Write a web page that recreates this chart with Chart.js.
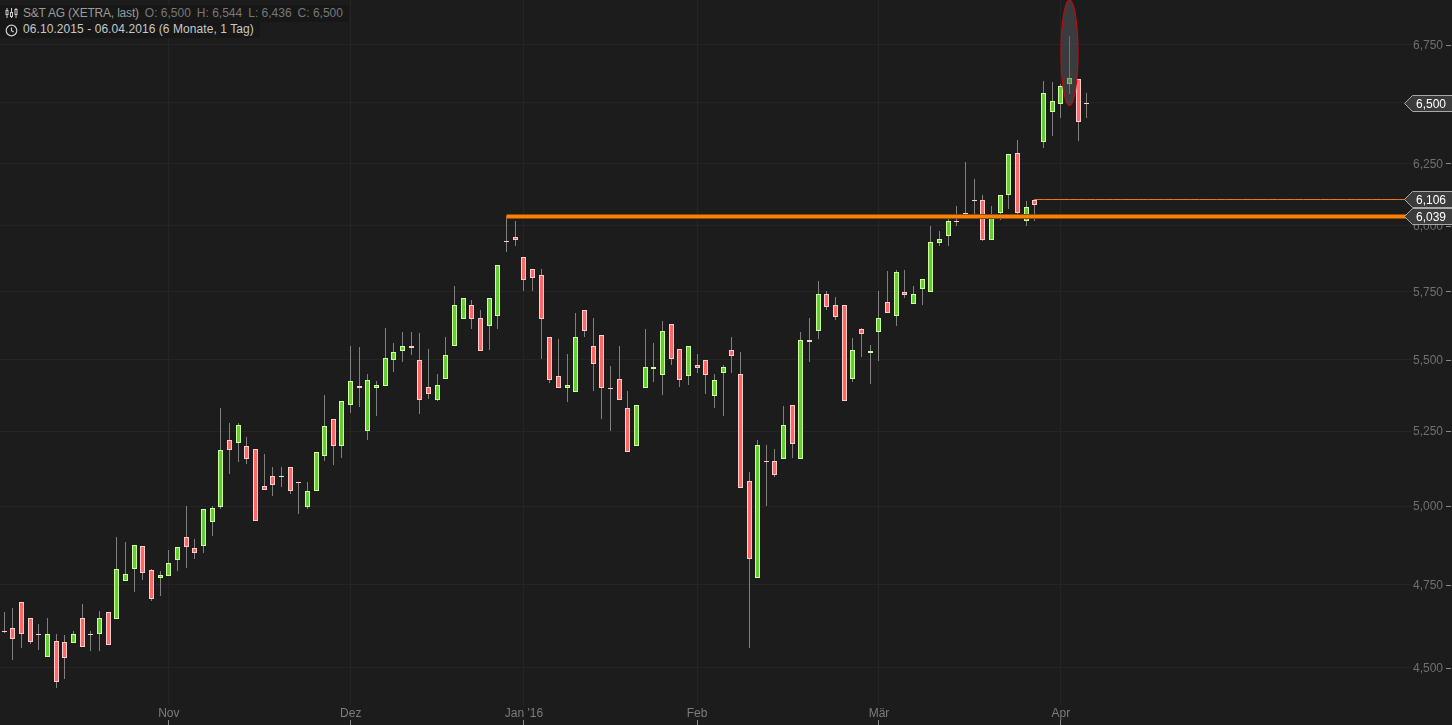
<!DOCTYPE html>
<html>
<head>
<meta charset="utf-8">
<title>S&amp;T AG</title>
<style>
  html, body { margin: 0; padding: 0; background: #1c1c1c; overflow: hidden; }
  #wrap { position: relative; width: 1452px; height: 725px; }
  #chart { display: block; }
  .head { position: absolute; left: 0; height: 16px; line-height: 16px; background: #171717; font: 12px "Liberation Sans", Arial, sans-serif; white-space: pre; padding-left: 23px; padding-right: 6px; }
  .head svg { position: absolute; left: 5px; top: 2px; }
  #row1 { top: 5px; color: #9a9a9a; padding-top: 1px; }
  #row1 b { font-weight: normal; letter-spacing: -0.2px; }
  #row1 span { color: #777; margin-left: 6px; }
  #row2 { top: 22px; color: #c8c8c8; letter-spacing: 0.07px; }
</style>
</head>
<body>
<div id="wrap">
  <canvas id="chart" width="1452" height="725"></canvas>
  <div class="head" id="row1"><svg width="13" height="12" viewBox="0 0 13 12" fill="none" stroke="#ccc"><path d="M2 1v10M6.500 1v10M11 1v10"/><rect x="1" y="3.500" width="2" height="4" fill="#1c1c1c"/><rect x="5.500" y="5.500" width="2" height="4" fill="#1c1c1c"/><rect x="10" y="2.500" width="2" height="5" fill="#1c1c1c"/></svg><b>S&amp;T AG (XETRA, last)</b><span>O: 6,500</span><span>H: 6,544</span><span>L: 6,436</span><span>C: 6,500</span></div>
  <div class="head" id="row2"><svg width="13" height="13" viewBox="0 0 13 13" fill="none" stroke="#ccc" stroke-width="1.200"><circle cx="6.500" cy="6.500" r="5.300"/><path d="M6.500 3.500v3.200l2.200 1.300"/></svg>06.10.2015 - 06.04.2016 (6 Monate, 1 Tag)</div>
</div>
<script src="https://cdn.jsdelivr.net/npm/chart.js@4"></script>
<script>
const tradingDays = [
  '06.10','07.10','08.10','09.10','12.10','13.10','14.10','15.10','16.10','19.10','20.10','21.10','22.10','23.10','26.10','27.10','28.10','29.10','30.10',
  '02.11','03.11','04.11','05.11','06.11','09.11','10.11','11.11','12.11','13.11','16.11','17.11','18.11','19.11','20.11','23.11','24.11','25.11','26.11','27.11','30.11',
  '01.12','02.12','03.12','04.12','07.12','08.12','09.12','10.12','11.12','14.12','15.12','16.12','17.12','18.12','21.12','22.12','23.12','28.12','29.12','30.12',
  '04.01','05.01','06.01','07.01','08.01','11.01','12.01','13.01','14.01','15.01','18.01','19.01','20.01','21.01','22.01','25.01','26.01','27.01','28.01','29.01',
  '01.02','02.02','03.02','04.02','05.02','08.02','09.02','10.02','11.02','12.02','15.02','16.02','17.02','18.02','19.02','22.02','23.02','24.02','25.02','26.02','29.02',
  '01.03','02.03','03.03','04.03','07.03','08.03','09.03','10.03','11.03','14.03','15.03','16.03','17.03','18.03','21.03','22.03','23.03','24.03','29.03','30.03','31.03',
  '01.04','04.04','05.04','06.04'
];

const open = [
  4.610,4.618,4.697,4.649,4.601,4.533,4.579,4.576,4.575,4.649,4.601,4.599,4.667,4.647,4.761,4.798,4.871,4.796,4.770,4.779,
  4.826,4.901,4.865,4.873,4.947,4.998,5.219,5.208,5.199,5.188,5.066,5.099,5.096,5.129,5.080,4.998,5.048,5.167,5.291,5.198,
  5.341,5.406,5.249,5.398,5.408,5.497,5.532,5.548,5.498,5.403,5.359,5.430,5.550,5.649,5.698,5.651,5.620,5.660,5.942,5.957,
  5.879,5.834,5.811,5.581,5.442,5.398,5.387,5.680,5.548,5.589,5.400,5.431,5.329,5.198,5.398,5.468,5.447,5.629,5.537,5.440,
  5.481,5.498,5.373,5.454,5.534,5.449,5.082,4.770,5.150,5.149,5.157,5.339,5.157,5.570,5.602,5.739,5.698,5.698,5.430,5.611,
  5.523,5.598,5.709,5.660,5.747,5.701,5.757,5.749,5.935,5.959,6.020,6.052,6.102,6.101,5.947,6.049,6.122,6.291,6.018,6.101,
  6.339,6.464,6.497,6.579,6.602,6.500
];
const high = [
  4.668,4.680,4.697,4.649,4.631,4.649,4.601,4.598,4.610,4.692,4.610,4.671,4.667,4.901,4.885,4.874,4.871,4.800,4.794,4.859,
  4.868,5.001,4.895,4.990,5.001,5.330,5.279,5.279,5.231,5.188,5.173,5.130,5.130,5.129,5.080,5.080,5.178,5.375,5.291,5.353,
  5.549,5.546,5.450,5.425,5.615,5.560,5.601,5.601,5.597,5.539,5.450,5.582,5.771,5.724,5.718,5.681,5.724,5.849,6.040,6.020,
  5.879,5.834,5.835,5.581,5.574,5.521,5.670,5.680,5.652,5.589,5.478,5.549,5.390,5.339,5.612,5.560,5.641,5.629,5.537,5.548,
  5.521,5.498,5.450,5.482,5.582,5.528,5.113,5.220,5.203,5.189,5.337,5.339,5.601,5.652,5.790,5.752,5.729,5.698,5.579,5.615,
  5.553,5.752,5.828,5.831,5.831,5.771,5.796,6.001,5.981,6.030,6.079,6.256,6.187,6.122,6.079,6.123,6.287,6.346,6.098,6.106,
  6.595,6.590,6.581,6.790,6.602,6.544
];
const low = [
  4.602,4.524,4.559,4.571,4.553,4.533,4.442,4.468,4.575,4.563,4.550,4.550,4.569,4.647,4.761,4.729,4.766,4.701,4.716,4.779,
  4.792,4.803,4.831,4.850,4.904,4.991,5.106,5.146,5.140,4.950,5.051,5.033,5.063,5.040,4.975,4.991,5.048,5.150,5.136,5.159,
  5.313,5.334,5.220,5.303,5.408,5.457,5.492,5.517,5.310,5.361,5.354,5.430,5.550,5.649,5.612,5.532,5.535,5.612,5.899,5.922,
  5.752,5.752,5.503,5.418,5.401,5.351,5.387,5.582,5.390,5.292,5.251,5.359,5.180,5.198,5.398,5.421,5.375,5.482,5.404,5.411,
  5.453,5.379,5.330,5.303,5.453,5.058,4.559,4.770,5.001,5.096,5.157,5.159,5.157,5.492,5.574,5.681,5.642,5.355,5.421,5.510,
  5.414,5.496,5.668,5.623,5.725,5.701,5.700,5.749,5.922,5.922,6.001,6.040,6.044,5.943,5.947,6.024,6.067,6.044,6.001,6.020,
  6.313,6.363,6.438,6.539,6.341,6.436
];
const close = [
  4.605,4.587,4.599,4.578,4.599,4.600,4.460,4.528,4.600,4.563,4.599,4.649,4.569,4.799,4.784,4.874,4.786,4.708,4.781,4.818,
  4.868,4.867,4.848,4.990,4.993,5.185,5.187,5.271,5.157,4.950,5.051,5.068,5.100,5.048,5.077,5.049,5.178,5.267,5.198,5.353,
  5.424,5.398,5.427,5.410,5.505,5.527,5.548,5.540,5.359,5.380,5.410,5.516,5.698,5.724,5.649,5.532,5.724,5.849,5.938,5.947,
  5.791,5.802,5.646,5.426,5.401,5.410,5.581,5.605,5.483,5.398,5.397,5.359,5.180,5.339,5.474,5.475,5.603,5.504,5.426,5.548,
  5.469,5.447,5.427,5.474,5.512,5.058,4.832,5.202,5.146,5.101,5.271,5.206,5.570,5.562,5.739,5.690,5.653,5.355,5.534,5.592,
  5.530,5.651,5.668,5.823,5.738,5.739,5.796,5.937,5.949,6.019,6.016,6.048,6.098,5.947,6.040,6.123,6.287,6.049,6.074,6.084,
  6.542,6.507,6.572,6.606,6.422,6.500
];

const yTicks = [4.5, 4.75, 5, 5.25, 5.5, 5.75, 6, 6.25, 6.5, 6.75];
const monthTicks = [19, 40, 60, 80, 101, 122];
const monthLabels = ['Nov', 'Dez', "Jan '16", 'Feb', 'Mär', 'Apr'];

const supportLevel = 6.039;
const supportStart = 58;
const lastHighLevel = 6.106;
const lastHighStart = 119;
const priceTags = [6.5, 6.106, 6.039];
const ellipseBar = 123;
const ellipseRange = [6.49, 6.95];

// empty slots keep the free space right of the last candle
const categories = tradingDays.concat(new Array(37).fill(''));

const fmt = v => v.toFixed(3).replace('.', ',');
const levelLine = (level, start) => categories.map((c, i) => (i >= start ? level : null));
const isUp = i => close[i] > open[i];

const wicks = tradingDays.map((d, i) => [low[i], high[i]]);
const bodies = tradingDays.map((d, i) => [Math.min(open[i], close[i]), Math.max(open[i], close[i])]);

// snap everything to whole pixels, the original has no antialiased candles
const snapMarks = {
  id: 'snapMarks',
  beforeDatasetsDraw(chart) {
    [0, 1].forEach(n => {
      chart.getDatasetMeta(n).data.forEach(bar => {
        bar.x = Math.floor(bar.x - 0.08) + 0.5;
        const top = Math.round(Math.min(bar.y, bar.base));
        let bottom = Math.round(Math.max(bar.y, bar.base));
        if (bottom === top) bottom = top + 1;
        bar.y = top;
        bar.base = bottom;
      });
    });
    [2, 3, 4].forEach(n => {
      chart.getDatasetMeta(n).data.forEach(point => {
        point.y = Math.round(point.y) + 0.5;
      });
    });
  }
};

const overlays = {
  id: 'overlays',
  beforeDraw(chart) {
    // value labels sit one pixel under their grid line
    chart.scales.y.getLabelItems(chart.chartArea).forEach(item => {
      if (!item.moved) {
        item.textOffset += 1;
        item.moved = true;
      }
    });
  },
  afterDatasetsDraw(chart) {
    const { ctx, scales: { x, y } } = chart;

    // highlight ellipse
    const cx = Math.floor(x.getPixelForValue(ellipseBar)) + 0.5;
    const top = y.getPixelForValue(ellipseRange[1]);
    const bottom = y.getPixelForValue(ellipseRange[0]);
    ctx.save();
    ctx.beginPath();
    ctx.ellipse(cx, (top + bottom) / 2, 8.5, (bottom - top) / 2, 0, 0, Math.PI * 2);
    ctx.fillStyle = 'rgba(88,90,96,0.5)';
    ctx.fill();
    ctx.lineWidth = 1.3;
    ctx.strokeStyle = '#b80d12';
    ctx.stroke();
    ctx.restore();
  },
  afterDraw(chart) {
    const { ctx, scales: { x, y } } = chart;
    ctx.save();

    // tick marks sit outside the labels here
    ctx.strokeStyle = '#8a8a8a';
    ctx.lineWidth = 1;
    yTicks.forEach(v => {
      const py = Math.round(y.getPixelForValue(v)) + 0.5;
      ctx.beginPath();
      ctx.moveTo(1446, py);
      ctx.lineTo(1451, py);
      ctx.stroke();
    });
    monthTicks.forEach(i => {
      const px = Math.floor(x.getPixelForValue(i)) + 0.5;
      ctx.beginPath();
      ctx.moveTo(px, 720);
      ctx.lineTo(px, 725);
      ctx.stroke();
    });

    // price tags
    ctx.font = '12px "Liberation Sans"';
    ctx.textBaseline = 'middle';
    priceTags.forEach(v => {
      const py = Math.round(y.getPixelForValue(v)) + 0.5;
      ctx.beginPath();
      ctx.moveTo(1453, py - 8);
      ctx.lineTo(1412.5, py - 8);
      ctx.lineTo(1404.5, py);
      ctx.lineTo(1412.5, py + 8);
      ctx.lineTo(1453, py + 8);
      ctx.closePath();
      ctx.fillStyle = '#3b3b3b';
      ctx.fill();
      ctx.strokeStyle = '#a8a8a8';
      ctx.stroke();
      ctx.fillStyle = '#ffffff';
      ctx.fillText(fmt(v), 1416, py + 1.5);
    });
    ctx.restore();
  }
};

const chart = new Chart(document.getElementById('chart'), {
  type: 'bar',
  data: {
    labels: categories,
    datasets: [
      {
        label: 'wick',
        data: wicks,
        grouped: false,
        order: 5,
        barThickness: 1,
        inflateAmount: 0,
        borderWidth: 0,
        backgroundColor: '#808080'
      },
      {
        label: 'body',
        data: bodies,
        grouped: false,
        order: 4,
        barThickness: 5,
        inflateAmount: 0,
        borderWidth: 1,
        borderSkipped: false,
        backgroundColor: tradingDays.map((d, i) => (isUp(i) ? '#66cc33' : '#ff6666')),
        borderColor: tradingDays.map((d, i) => (isUp(i) ? '#ccff99' : '#ffcccc'))
      },
      {
        type: 'line',
        label: 'last high',
        data: levelLine(lastHighLevel, lastHighStart),
        order: 3,
        borderColor: '#e8781a',
        borderWidth: 1,
        pointRadius: 0
      },
      {
        type: 'line',
        label: 'support edge',
        data: levelLine(supportLevel, supportStart),
        order: 2,
        borderColor: '#8a4d14',
        borderWidth: 5,
        pointRadius: 0
      },
      {
        type: 'line',
        label: 'support',
        data: levelLine(supportLevel, supportStart),
        order: 1,
        borderColor: '#ff7f00',
        borderWidth: 3,
        pointRadius: 0
      }
    ]
  },
  options: {
    responsive: false,
    animation: false,
    layout: { padding: 0 },
    plugins: {
      legend: { display: false },
      title: { display: false },
      tooltip: { enabled: false }
    },
    scales: {
      x: {
        offset: true,
        grid: { offset: false, color: '#252525', drawTicks: false },
        border: { display: false },
        afterBuildTicks: scale => { scale.ticks = monthTicks.map(i => ({ value: i })); },
        afterFit: scale => {
          scale.height = 20;
          scale.paddingLeft = 0;
          scale.paddingRight = 0;
        },
        ticks: {
          autoSkip: false,
          maxRotation: 0,
          minRotation: 0,
          padding: 1,
          color: '#7c7c7c',
          font: { family: 'Liberation Sans', size: 12 },
          callback: value => monthLabels[monthTicks.indexOf(value)]
        }
      },
      y: {
        type: 'logarithmic',
        position: 'right',
        min: 4.3927,
        max: 6.9506,
        grid: { color: '#252525', drawTicks: false },
        border: { display: false },
        afterBuildTicks: scale => { scale.ticks = yTicks.map(v => ({ value: v })); },
        afterFit: scale => {
          scale.width = 40.42;
          // no room reserved above the top label, the plot starts at the canvas edge
          scale.paddingTop = 0;
          scale.paddingBottom = 0;
        },
        ticks: {
          autoSkip: false,
          padding: 1.4,
          color: '#6f6f6f',
          font: { family: 'Liberation Sans', size: 12 },
          callback: value => fmt(value)
        }
      }
    }
  },
  plugins: [snapMarks, overlays]
});
</script>
</body>
</html>
